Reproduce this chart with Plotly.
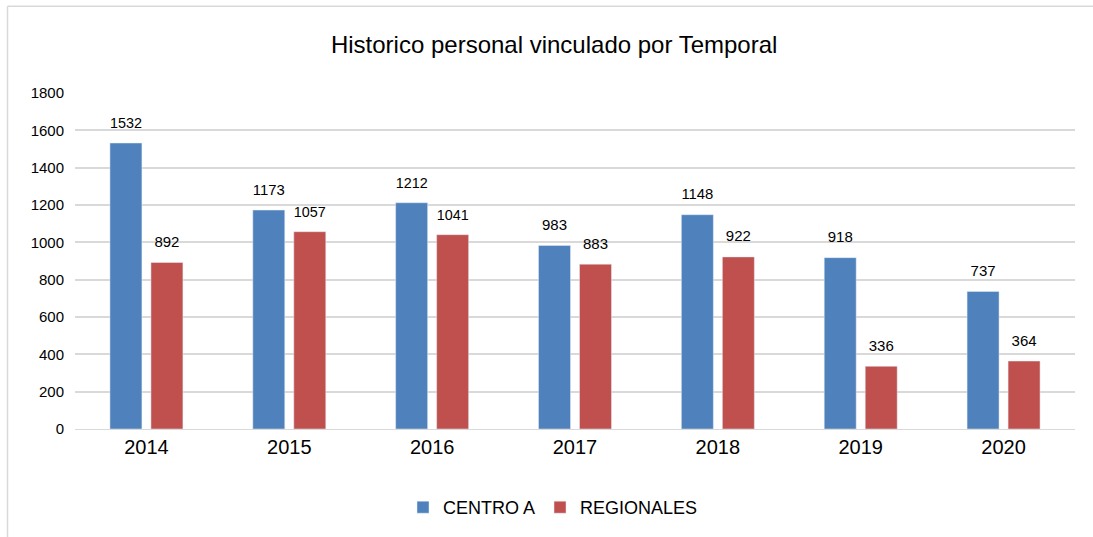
import plotly.graph_objects as go

years = ["2014", "2015", "2016", "2017", "2018", "2019", "2020"]
centro_a = [1532, 1173, 1212, 983, 1148, 918, 737]
regionales = [892, 1057, 1041, 883, 922, 336, 364]
y_ticks = [0, 200, 400, 600, 800, 1000, 1200, 1400, 1600, 1800]

FONT = "Liberation Sans Narrow, Arial Narrow, Liberation Sans, Arial, sans-serif"


def labels(values):
    return [f"<span style='font-size:15px'>{v}</span><br> " for v in values]


fig = go.Figure()
fig.add_trace(go.Bar(name="CENTRO A", x=years, y=centro_a, marker_color="#4F81BD",
                     text=labels(centro_a), textposition="outside", cliponaxis=False,
                     textfont=dict(size=8, color="#000000")))
fig.add_trace(go.Bar(name="REGIONALES", x=years, y=regionales, marker_color="#C0504D",
                     text=labels(regionales), textposition="outside", cliponaxis=False,
                     textfont=dict(size=8, color="#000000")))

fig.update_layout(
    width=1093, height=537,
    margin=dict(l=75, r=18, t=93, b=107),
    paper_bgcolor="white", plot_bgcolor="white",
    font=dict(family=FONT, color="#000000"),
    barmode="group", bargap=0.426, bargroupgap=0.22,
    title=dict(text="Historico personal vinculado por Temporal", x=0.507, xanchor="center",
               y=1 - 45 / 537, yanchor="middle", yref="container",
               font=dict(size=24, family=FONT, color="#000000")),
    legend=dict(orientation="h", x=0.478, xanchor="center", y=-0.23, yanchor="middle",
                font=dict(size=18, family=FONT), itemwidth=30, tracegroupgap=0),
    showlegend=True,
    shapes=[
        dict(type="line", xref="paper", yref="paper", x0=-0.0675, x1=-0.0675, y0=1.258, y1=-0.5,
             line=dict(color="#D9D9D9", width=1.5)),
        dict(type="line", xref="paper", yref="paper", x0=-0.0675, x1=1.03, y0=1.258, y1=1.258,
             line=dict(color="#D9D9D9", width=1.5)),
    ],
)
fig.update_xaxes(tickfont=dict(size=20, family=FONT), showline=True, linecolor="#D9D9D9",
                 linewidth=1, ticks="", showgrid=False)
fig.update_yaxes(range=[0, 1800], tickvals=y_ticks, ticktext=[str(v) for v in y_ticks],
                 tickfont=dict(size=15, family=FONT), showgrid=True, gridcolor="#D9D9D9",
                 gridwidth=1.5, zeroline=False, ticks="", showline=False, ticklabelstandoff=10)

fig.write_html("out.html", config={"displayModeBar": False},
               post_script="document.body.style.margin='0';document.body.style.overflow='hidden';")
